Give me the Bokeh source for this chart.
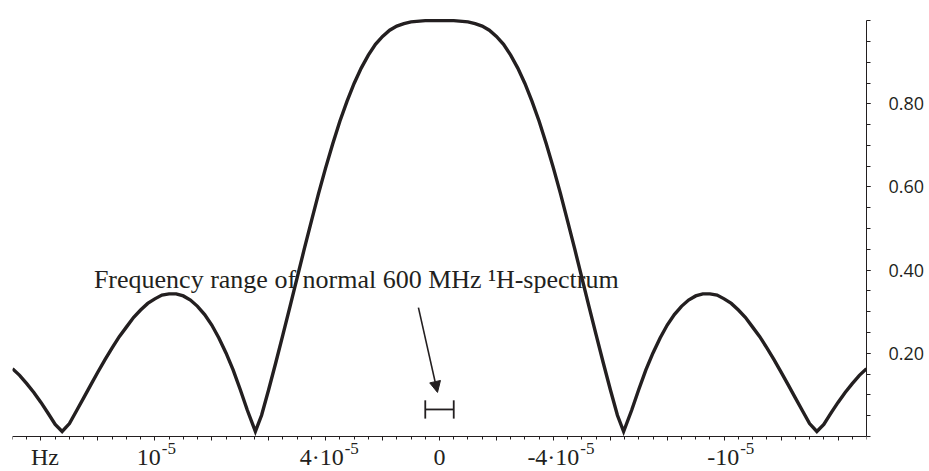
from bokeh.plotting import figure
from bokeh.models import Range1d, FixedTicker, Label, Arrow, NormalHead, PrintfTickFormatter
from bokeh.embed import file_html
from bokeh.resources import INLINE

# ---------------- data ----------------
freq = [7.5, 7.375, 7.25, 7.125, 7.0, 6.875, 6.75, 6.628, 6.5, 6.375,
        6.25, 6.125, 6.0, 5.875, 5.75, 5.625, 5.5, 5.375, 5.25, 5.125,
        5.0, 4.875, 4.75, 4.625, 4.5, 4.375, 4.25, 4.125, 4.0, 3.875,
        3.75, 3.625, 3.5, 3.375, 3.234, 3.125, 3.0, 2.875, 2.75, 2.625,
        2.5, 2.375, 2.25, 2.125, 2.0, 1.875, 1.75, 1.625, 1.5, 1.375,
        1.25, 1.125, 1.0, 0.875, 0.75, 0.625, 0.5, 0.25,
        0.0,
        -0.25, -0.5, -0.625, -0.75, -0.875, -1.0, -1.125, -1.25, -1.375, -1.5,
        -1.625, -1.75, -1.875, -2.0, -2.125, -2.25, -2.375, -2.5, -2.625, -2.75,
        -2.875, -3.0, -3.125, -3.234, -3.375, -3.5, -3.625, -3.75, -3.875, -4.0,
        -4.125, -4.25, -4.375, -4.5, -4.625, -4.75, -4.875, -5.0, -5.125, -5.25,
        -5.375, -5.5, -5.625, -5.75, -5.875, -6.0, -6.125, -6.25, -6.375, -6.5,
        -6.628, -6.75, -6.875, -7.0, -7.125, -7.25, -7.375, -7.5]

amplitude = [0.163, 0.147, 0.127, 0.106, 0.082, 0.056, 0.029, 0.012, 0.031, 0.062,
             0.093, 0.124, 0.155, 0.185, 0.213, 0.240, 0.263, 0.286, 0.304, 0.320,
             0.331, 0.340, 0.343, 0.343, 0.338, 0.328, 0.313, 0.293, 0.268, 0.237,
             0.201, 0.160, 0.113, 0.063, 0.012, 0.051, 0.113, 0.178, 0.245, 0.313,
             0.382, 0.451, 0.518, 0.584, 0.646, 0.704, 0.758, 0.806, 0.849, 0.886,
             0.917, 0.943, 0.962, 0.977, 0.987, 0.993, 0.997, 1.000,
             1.000,
             1.000, 0.997, 0.993, 0.987, 0.977, 0.962, 0.943, 0.917, 0.886, 0.849,
             0.806, 0.758, 0.704, 0.646, 0.584, 0.518, 0.451, 0.382, 0.313, 0.245,
             0.178, 0.113, 0.051, 0.012, 0.063, 0.113, 0.160, 0.201, 0.237, 0.268,
             0.293, 0.313, 0.328, 0.338, 0.343, 0.343, 0.340, 0.331, 0.320, 0.304,
             0.286, 0.263, 0.240, 0.213, 0.185, 0.155, 0.124, 0.093, 0.062, 0.031,
             0.012, 0.029, 0.056, 0.082, 0.106, 0.127, 0.147, 0.163]

x_major_ticks = list(range(-7, 8))
x_minor_ticks = [k / 4 for k in range(-30, 31)]
y_major_ticks = [0.2, 0.4, 0.6, 0.8]
y_minor_ticks = [k / 20 for k in range(0, 21)]

x_label_pos = [7, 5, 2, 0, -2, -5]
x_label_base = ["Hz", "10", "4·10", "0", "-4·10", "-10"]
x_label_sup = ["", "-5", "-5", "", "-5", "-5"]

annotation_text = "Frequency range of normal 600 MHz ¹H-spectrum"
annotation_x, annotation_y = 6.07, 0.356
spectrum_lo, spectrum_hi = -0.25, 0.25
bracket_level = 0.065
bracket_half = 0.022
arrow_x0, arrow_y0 = 0.37, 0.31
arrow_x1, arrow_y1 = 0.035, 0.106

# ---------------- layout / style ----------------
INK = "#231f20"
label_shift = [4, 6, 18, 0, 26, 15]   # px shift of the label anchor from its tick
label_drop = -21                      # px below the x axis
sup_raise = 9
annotation_raise = 9

p = figure(width=929, height=471,
           x_range=Range1d(7.5, -7.5), y_range=Range1d(-0.0842, 1.01),
           y_axis_location="right", output_backend="svg",
           toolbar_location=None, tools="",
           min_border_left=12, min_border_right=63,
           min_border_top=16, min_border_bottom=0)
p.outline_line_color = None
p.xgrid.visible = False
p.ygrid.visible = False
p.background_fill_color = "white"
p.border_fill_color = "white"

p.line(freq, amplitude, line_color=INK, line_width=3.4, line_join="miter")

# x axis, drawn at amplitude 0 inside the frame
xa = p.xaxis[0]
xa.fixed_location = 0
xa.ticker = FixedTicker(ticks=x_major_ticks, minor_ticks=x_minor_ticks)
xa.major_label_overrides = {t: "" for t in x_major_ticks}
xa.major_label_text_font_size = "1px"
xa.major_label_standoff = 0
xa.axis_line_color = INK
xa.axis_line_width = 1
xa.major_tick_line_color = INK
xa.minor_tick_line_color = INK
xa.major_tick_in = 0
xa.major_tick_out = 4
xa.minor_tick_in = 0
xa.minor_tick_out = 3

# y axis (right)
ya = p.yaxis[0]
ya.ticker = FixedTicker(ticks=y_major_ticks, minor_ticks=y_minor_ticks)
ya.bounds = (0, 1.0)
ya.formatter = PrintfTickFormatter(format="%.2f")
ya.axis_line_color = INK
ya.major_tick_line_color = INK
ya.minor_tick_line_color = INK
ya.major_tick_in = 0
ya.major_tick_out = 4
ya.minor_tick_in = 0
ya.minor_tick_out = 4
ya.major_label_standoff = 18
ya.major_label_text_font = "Open Sans"
ya.major_label_text_font_size = "18px"
ya.major_label_text_color = INK

# x tick labels with superscripts
for pos, base, sup, shift in zip(x_label_pos, x_label_base, x_label_sup, label_shift):
    if sup:
        p.add_layout(Label(x=pos, y=0, y_offset=label_drop, x_offset=shift,
                           text=base, text_align="right",
                           text_baseline="alphabetic", text_font="Liberation Serif",
                           text_font_size="24px", text_color=INK))
        p.add_layout(Label(x=pos, y=0, y_offset=label_drop + sup_raise, x_offset=shift + 1,
                           text=sup, text_align="left",
                           text_baseline="alphabetic", text_font="Liberation Serif",
                           text_font_size="17px", text_color=INK))
    else:
        p.add_layout(Label(x=pos, y=0, y_offset=label_drop, x_offset=shift,
                           text=base, text_align="center",
                           text_baseline="alphabetic", text_font="Liberation Serif",
                           text_font_size="24px", text_color=INK))

# annotation
p.add_layout(Label(x=annotation_x, y=annotation_y, y_offset=annotation_raise,
                   text=annotation_text,
                   text_align="left", text_baseline="alphabetic",
                   text_font="Liberation Serif", text_font_size="26px", text_color=INK))
p.add_layout(Arrow(end=NormalHead(size=11, fill_color=INK, line_color=INK, line_width=1),
                   x_start=arrow_x0, y_start=arrow_y0, x_end=arrow_x1, y_end=arrow_y1,
                   line_color=INK, line_width=1.6))

# bracket showing the spectrum range
p.segment(x0=[spectrum_lo, spectrum_lo, spectrum_hi],
          y0=[bracket_level, bracket_level - bracket_half, bracket_level - bracket_half],
          x1=[spectrum_hi, spectrum_lo, spectrum_hi],
          y1=[bracket_level, bracket_level + bracket_half, bracket_level + bracket_half],
          line_color=INK, line_width=1.8)

open("out.html", "w").write(file_html(p, INLINE))
